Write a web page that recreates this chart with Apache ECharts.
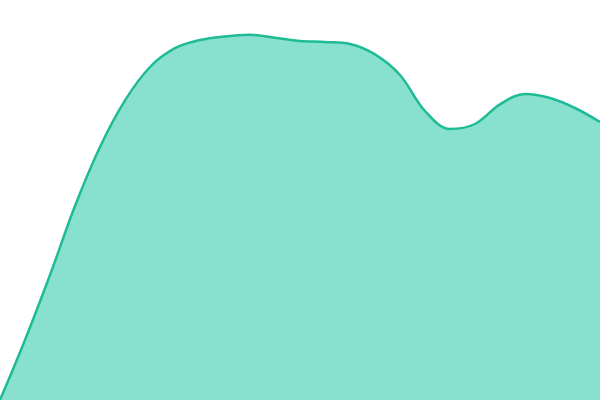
<!DOCTYPE html>
<html><head><meta charset="utf-8">
<script src="https://cdn.jsdelivr.net/npm/echarts@6/dist/echarts.min.js"></script>
<style>html,body{margin:0;padding:0;background:#fff}#c{width:600px;height:400px}</style>
</head><body><div id="c"></div>
<script>
const categories = ['1','2','3','4','5','6','7','8','9','10','11','12','13','14','15','16','17','18','19','20','21','22','23','24','25'];
const values = [0, 15, 31.25, 48.5, 63.25, 74.9, 83.25, 87.95, 90, 90.9, 91.3, 90.55, 89.75, 89.5, 89, 86.4, 81.25, 72.25, 67.75, 69, 73.9, 76.5, 75.5, 73, 69.5];
const chart = echarts.init(document.getElementById('c'));
chart.setOption({
  animation: false,
  grid: {left: 0, right: 0, top: 0, bottom: 0},
  xAxis: {type: 'category', data: categories, boundaryGap: false, show: false},
  yAxis: {type: 'value', min: 0, max: 100, show: false},
  series: [{
    type: 'line', data: values, smooth: 0.35, showSymbol: false,
    lineStyle: {color: '#1fbb95', width: 2.5},
    areaStyle: {color: '#88e0cf', opacity: 1}
  }]
});
</script></body></html>
